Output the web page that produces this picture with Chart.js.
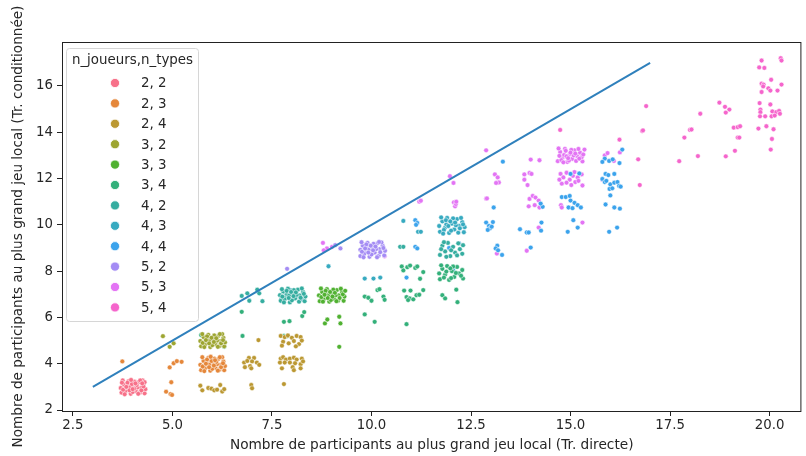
<!DOCTYPE html>
<html>
<head>
<meta charset="utf-8">
<script src="https://cdn.jsdelivr.net/npm/chart.js@4.4.1/dist/chart.umd.min.js"></script>
<style>
  html, body { margin: 0; padding: 0; background: #fff; }
</style>
</head>
<body>
<canvas id="scatterChart" width="806" height="456"></canvas>
<script>
// categories (n_joueurs, n_types) et couleurs
var groupLabels = ['2, 2', '2, 3', '2, 4', '3, 2', '3, 3', '3, 4', '4, 2', '4, 3', '4, 4', '5, 2', '5, 3', '5, 4'];
var groupColors = ['#f77189', '#e5873a', '#bb9832', '#9da531', '#50b131', '#33b07a', '#35ada0', '#37aac0', '#3ba3ec', '#a48cf4', '#e374f4', '#f565cc'];

var xTicks = [2.5, 5, 7.5, 10, 12.5, 15, 17.5, 20];
var yTicks = [2, 4, 6, 8, 10, 12, 14, 16];

// diagonale
var lineX = [3, 17];
var lineY = [3, 17];

// points [direct, conditionné]
var pts22 = [[3.72,2.75],[3.78,3.1],[3.85,2.9],[3.9,3.25],[3.95,2.7],[4.02,3.05],[4.08,2.82],[4.15,3.2],[4.2,2.95],[4.28,3.12],[4.3,2.72],[3.75,3.28],[3.82,2.8],[3.88,3.05],[3.93,2.98],[4.0,2.78],[4.05,3.22],[4.12,2.98],[4.18,2.75],[4.25,3.28],[4.32,2.9],[3.7,2.95],[3.8,2.68],[3.87,3.18],[3.98,3.12],[4.1,3.08],[4.22,2.85],[4.27,3.02],[3.76,2.88],[3.92,2.85],[4.04,2.92],[4.14,2.7],[4.19,3.28],[3.84,3.0],[3.96,3.3],[4.07,3.15],[4.3,3.2],[3.73,3.18],[4.24,3.15],[4.0,2.9]];
var pts23 = [[5.72,3.72],[5.78,4.12],[5.85,3.88],[5.9,4.25],[5.95,3.7],[6.02,4.05],[6.08,3.82],[6.15,4.2],[6.2,3.95],[6.28,4.1],[6.3,3.72],[5.75,4.28],[5.82,3.8],[5.88,4.02],[5.93,3.96],[6.0,3.78],[6.05,4.22],[6.12,3.98],[6.18,3.74],[6.25,4.28],[6.32,3.9],[5.7,3.95],[5.8,3.68],[5.87,4.18],[5.98,4.12],[6.1,4.08],[6.22,3.85],[6.27,4.02],[5.76,3.88],[5.92,3.85],[6.04,3.92],[6.14,3.7],[6.19,4.28],[5.84,4.0],[5.96,4.3],[6.07,4.15],
  [3.74,4.1],[4.93,3.84],[5.03,4.02],[5.11,4.11],[5.23,4.08],[4.97,3.2],[4.84,2.79],[4.95,2.69],[4.99,2.65]];
var pts24 = [[5.7,3.05],[5.75,2.85],[5.9,2.95],[5.98,2.92],[6.05,2.85],[6.12,2.88],[6.2,3.08],[6.25,2.8],[6.3,2.9],
  [6.98,3.08],[7.0,2.94],
  [6.92,4.25],[7.05,4.25],[6.8,4.05],[6.88,4.12],[7.0,4.1],[7.12,4.05],[6.82,3.85],[6.95,3.9],[6.98,3.8],[7.18,3.95],
  [7.72,4.22],[7.78,4.28],[7.85,4.18],[7.95,4.22],[8.05,4.26],[8.12,4.18],[8.25,4.22],[7.7,4.05],[7.82,4.05],[7.95,4.05],[8.08,4.02],[8.22,3.98],[7.75,3.8],[8.02,3.85],[8.22,3.8],[8.05,3.72],[8.28,4.1],
  [7.8,3.12],
  [7.72,5.2],[7.82,5.15],[7.9,5.22],[8.0,5.12],[8.12,5.2],[8.22,5.15],[7.78,4.95],[7.92,4.88],[8.05,4.98],[8.18,4.85],[7.75,4.78],[8.1,4.75],[8.25,5.0],
  [7.16,5.02]];
var pts32 = [[5.72,4.75],[5.78,5.15],[5.85,4.9],[5.9,5.25],[5.95,4.72],[6.02,5.05],[6.08,4.85],[6.15,5.2],[6.2,4.98],[6.28,5.12],[6.3,4.75],[5.75,5.28],[5.82,4.82],[5.88,5.05],[5.93,4.98],[6.0,4.8],[6.05,5.22],[6.12,5.0],[6.18,4.76],[6.25,5.28],[6.32,4.92],[5.7,4.98],[5.8,4.72],[5.87,5.18],[5.98,5.12],[6.1,5.1],[6.22,4.88],[6.27,5.02],[5.76,4.9],[5.92,4.88],[6.04,4.94],[6.14,4.73],[6.19,5.28],[5.84,5.02],
  [4.76,5.19],[4.93,4.73],[5.03,4.88]];
var pts33 = [[8.7,6.7],[8.76,7.1],[8.83,6.85],[8.88,7.22],[8.94,6.68],[9.0,7.02],[9.06,6.8],[9.13,7.18],[9.18,6.95],[9.26,7.1],[9.3,6.72],[8.73,7.25],[8.8,6.78],[8.86,7.0],[8.92,6.93],[8.98,6.75],[9.04,7.2],[9.1,6.96],[9.16,6.72],[9.23,7.24],[9.32,6.9],[8.68,6.95],[8.78,6.68],[8.85,7.15],[8.96,7.1],[9.08,7.06],[9.2,6.84],[9.28,7.0],[8.74,6.88],[8.9,6.84],[9.02,6.9],[9.12,6.7],[9.34,7.15],[8.82,6.98],
  [8.83,5.74],[8.89,5.91],[9.19,6.03],[9.22,5.74],[9.19,4.73]];
var pts34 = [[6.74,6.24],[7.8,5.81],[7.94,5.84],[8.26,6.06],[8.31,6.23],[6.76,5.2],[7.8,5.2],[7.88,5.19],[5.72,5.24],[6.3,4.73],
  [9.83,6.9],[9.92,6.85],[10.0,6.72],[10.15,7.18],[10.2,7.22],[10.3,6.9],[10.33,6.76],
  [9.83,6.13],[10.08,5.81],
  [10.82,7.16],[10.98,7.16],[10.88,6.88],[10.96,6.82],[11.05,6.78],[11.13,6.96],[11.2,6.98],[10.92,6.75],[11.3,7.18],
  [10.88,5.71],
  [10.76,8.2],[10.8,8.03],[10.9,8.17],[10.97,8.24],[11.1,8.14],[11.15,8.2],[11.3,7.96],[11.22,7.67],
  [11.72,7.65],[11.78,8.1],[11.85,7.85],[11.9,8.22],[11.95,7.62],[12.02,8.0],[12.08,7.75],[12.15,8.18],[12.2,7.9],[12.28,8.05],[12.3,7.68],[11.75,8.25],[11.82,7.72],[11.88,7.98],[12.0,7.7],[12.05,8.2],[12.12,7.92],[12.25,7.8],[11.7,7.9],[11.98,8.12],
  [11.78,6.96],[11.85,6.82],[12.13,7.2],[12.16,6.66]];
var pts42 = [[7.72,6.72],[7.78,7.12],[7.85,6.88],[7.9,7.24],[7.95,6.65],[8.02,7.02],[8.08,6.82],[8.15,7.2],[8.2,6.95],[8.28,7.1],[8.32,6.7],[7.75,7.22],[7.82,6.78],[7.88,7.0],[7.93,6.94],[8.0,6.74],[8.05,7.18],[8.12,6.98],[8.18,6.68],[8.25,7.25],[8.34,6.9],[7.7,6.96],[7.8,6.65],[7.87,7.15],[7.98,7.1],[8.1,7.08],[8.22,6.85],[8.3,7.02],[7.76,6.9],[7.92,6.84],[8.04,6.92],
  [6.74,6.93],[6.88,7.04],[6.93,6.72],[7.13,7.2],[7.18,7.04],[7.26,6.7],
  [11.72,8.7],[11.78,9.1],[11.85,8.85],[11.92,9.22],[11.98,8.65],[12.05,9.05],[12.1,8.8],[12.18,9.2],[12.22,8.95],[12.3,9.12],[11.75,8.95],[11.88,8.62],[12.0,8.9],[12.15,8.68],[12.28,8.75],[11.82,9.25],
  [10.72,9.05],[10.8,9.05]];
var pts43 = [[11.72,9.7],[11.78,10.15],[11.85,9.88],[11.9,10.3],[11.95,9.65],[12.02,10.05],[12.08,9.8],[12.15,10.25],[12.2,9.95],[12.28,10.12],[12.32,9.68],[11.75,10.32],[11.82,9.78],[11.88,10.02],[11.93,9.95],[12.0,9.75],[12.05,10.28],[12.12,9.98],[12.18,9.66],[12.25,10.3],[12.34,9.9],[11.7,9.95],[11.8,9.62],[11.87,10.2],[11.98,10.15],[12.1,10.1],[12.22,9.85],[12.3,10.02],
  [10.8,10.17],[11.17,9.7],[11.24,9.7],
  [9.83,7.68],[10.05,7.68],[10.22,7.72],
  [8.92,8.21],
  [7.84,7.05],[8.18,6.9],[8.26,6.78],[7.96,7.18],[7.74,6.82]];
var pts44 = [[11.1,10.2],[11.15,10.08],[11.12,10.0],
  [11.1,9.05],[11.15,8.98],[10.88,7.72],[11.95,9.0],[12.2,9.2],[12.05,8.05],
  [13.3,12.73],
  [12.88,10.1],[12.95,9.95],[13.05,10.12],[12.98,9.85],[13.02,9.92],[12.92,9.78],[13.07,10.75],
  [13.16,9.1],[13.12,8.98],[13.18,8.9],[13.28,8.7],
  [13.73,9.81],[13.9,9.67],[13.95,9.67],[14.27,10.1],[14.26,9.75],
  [14.0,9.02],
  [14.3,10.78],[14.25,10.92],
  [14.78,11.2],[14.88,11.2],[14.98,11.25],[15.0,11.05],[15.1,10.95],[15.18,10.85],[15.26,10.75],[14.95,10.75],[15.05,10.72],
  [15.07,10.2],[15.18,9.88],[14.93,9.7],
  [15.0,12.2],[15.22,12.22],
  [15.88,12.2],[15.95,12.15],[16.1,12.2],[15.8,11.98],[15.86,11.85],[15.9,11.9],[16.0,11.75],[16.1,11.82],[16.18,11.85],[16.22,11.68],[16.26,11.65],[15.98,11.55],[16.05,11.58],
  [16.3,13.25],[15.86,12.86],[15.8,12.72],[15.97,12.76],[16.06,12.83],[16.23,12.67],
  [16.0,11.27],[15.88,10.88],[16.1,10.75],[16.24,10.7],
  [15.97,9.7],[16.17,9.88]];
var pts52 = [[9.72,8.65],[9.78,9.1],[9.85,8.85],[9.9,9.22],[9.95,8.62],[10.02,9.02],[10.08,8.8],[10.15,9.2],[10.2,8.95],[10.28,9.1],[10.32,8.68],[9.75,9.25],[9.82,8.75],[9.88,9.0],[9.93,8.92],[10.0,8.72],[10.05,9.18],[10.12,8.96],[10.18,8.66],[10.25,9.24],[10.34,8.88],[9.72,8.92],[9.8,8.6],[9.87,9.15],[9.98,9.1],[10.1,9.06],[10.22,8.82],[10.3,9.0],[9.76,8.84],[9.92,8.8],[10.04,8.9],[10.14,8.6],[10.19,9.26],[9.84,8.98],
  [7.88,8.1],[9.09,9.12],[9.22,8.98]];
var pts53 = [[8.78,9.22],[8.88,8.98],[8.8,8.9],[9.01,9.05],
  [10.33,8.64],
  [11.2,11.0],[11.24,11.04],
  [11.97,12.1],[12.06,11.81],
  [12.07,10.97],[12.1,10.8],[12.12,10.9],[12.13,11.0],
  [13.1,12.18],[13.17,12.05],[13.15,11.81],[13.2,11.83],[13.13,11.81],
  [12.88,13.22],
  [12.88,11.13],[12.9,11.14],
  [13.15,8.76],
  [14.0,12.82],[14.22,12.79],
  [13.84,12.18],[13.97,12.24],[14.02,12.2],[13.84,11.95],[13.92,11.72],
  [13.97,11.12],[14.05,11.25],[14.12,11.18],[14.2,11.05],[13.95,10.8],[14.1,10.85],[14.22,10.75],
  [14.2,9.88],[13.9,8.88],
  [14.68,12.75],[14.74,13.15],[14.8,12.9],[14.86,13.28],[14.92,12.72],[14.98,13.05],[15.04,12.85],[15.1,13.22],[15.16,12.98],[15.24,13.12],[15.3,12.74],[14.7,13.3],[14.77,12.8],[14.84,13.02],[14.9,12.96],[14.96,12.78],[15.02,13.24],[15.08,13.0],[15.14,12.76],[15.2,13.28],[15.28,12.92],[14.72,12.98],[14.82,12.7],[14.88,13.2],[15.0,13.12],[15.12,13.08],[15.22,12.86],[15.32,13.04],[15.35,13.25],[14.94,12.88],
  [14.75,12.2],[14.82,12.05],[14.9,12.25],[14.98,11.95],[15.06,12.12],[15.12,11.85],[15.18,12.05],[15.28,12.18],[14.78,11.78],[14.9,11.82],[15.02,11.72],[15.2,11.9],[14.72,11.95],[15.3,11.7],[15.1,12.28],
  [14.76,10.85],[14.78,10.75],
  [15.3,10.1],
  [15.86,13.0],[15.93,13.1],[16.09,12.76],[16.24,13.13],
  [15.8,11.95]];
var pts54 = [[14.74,14.1],[16.23,13.68],
  [16.9,15.13],[16.8,14.05],[16.82,14.08],[16.7,12.83],[16.74,11.72],
  [17.73,12.75],[17.86,13.77],[18.0,14.1],[18.04,14.12],[18.26,14.8],[18.2,12.97],
  [18.74,15.28],[18.88,15.1],[18.99,14.98],[18.9,14.85],[19.1,14.2],[19.2,14.22],[19.26,14.26],[19.2,13.77],[19.24,13.77],[19.13,13.2],[18.9,12.96],
  [19.8,17.1],[19.74,16.8],[19.87,16.78],[20.28,17.2],[20.3,17.1],[20.04,16.27],[19.8,16.1],[19.85,16.06],[19.84,15.98],[19.97,15.9],[20.02,15.8],[19.8,15.74],[20.2,15.8],[20.3,16.06],[19.75,15.26],[20.02,15.2],[19.77,14.98],[19.77,14.87],[19.76,14.69],[19.89,14.69],[20.07,14.9],[20.17,14.87],[20.24,14.92],[20.26,14.8],[20.05,14.69],[20.13,14.72],[19.72,14.16],[19.92,14.26],[20.1,14.13],[20.06,13.71],[20.03,13.25]];

var groupPoints = [pts22, pts23, pts24, pts32, pts33, pts34, pts42, pts43, pts44, pts52, pts53, pts54];

var textColor = '#262626';
var fontFamily = "'DejaVu Sans', sans-serif";

function toXY(pairs) {
    return pairs.map(function(p) { return { x: p[0], y: p[1] }; });
}

var datasets = [{
    type: 'line',
    label: 'diagonale',
    data: lineX.map(function(v, i) { return { x: v, y: lineY[i] }; }),
    borderColor: '#2f80bc',
    borderWidth: 2,
    pointRadius: 0,
    fill: false,
    order: 0
}];

for (var i = 0; i < groupLabels.length; i++) {
    datasets.push({
        label: groupLabels[i],
        data: toXY(groupPoints[i]),
        backgroundColor: groupColors[i],
        borderColor: 'rgba(255,255,255,0.85)',
        borderWidth: 0.6,
        pointRadius: 2.4,
        order: 1
    });
}

// cadre complet + légende dans la zone de tracé
var frameAndLegend = {
    id: 'frameAndLegend',
    afterDatasetsDraw: function(chart) {
        var ctx = chart.ctx;
        var a = chart.chartArea;
        ctx.save();
        ctx.strokeStyle = '#222';
        ctx.lineWidth = 1;
        ctx.strokeRect(a.left + 0.5, a.top + 0.5, a.right - a.left - 1, a.bottom - a.top);

        var bx = a.left + 4.5, by = a.top + 6.5, bw = 132, bh = 273;
        ctx.beginPath();
        ctx.roundRect(bx, by, bw, bh, 3);
        ctx.fillStyle = 'rgba(255,255,255,0.8)';
        ctx.fill();
        ctx.strokeStyle = '#d6d6d6';
        ctx.stroke();

        ctx.font = '13.4px ' + fontFamily;
        ctx.fillStyle = textColor;
        ctx.textBaseline = 'middle';
        ctx.textAlign = 'center';
        ctx.fillText('n_joueurs,n_types', bx + bw / 2, a.top + 19);

        ctx.textAlign = 'left';
        for (var k = 0; k < groupLabels.length; k++) {
            var yy = a.top + 41 + k * 20.4;
            ctx.beginPath();
            ctx.arc(a.left + 53, yy, 4.6, 0, Math.PI * 2);
            ctx.fillStyle = groupColors[k];
            ctx.fill();
            ctx.strokeStyle = '#fff';
            ctx.lineWidth = 0.8;
            ctx.stroke();
            ctx.fillStyle = textColor;
            ctx.fillText(groupLabels[k], a.left + 79, yy + 1);
        }
        ctx.restore();
    }
};

var ctx = document.getElementById('scatterChart').getContext('2d');
var chart = new Chart(ctx, {
    type: 'scatter',
    data: { datasets: datasets },
    options: {
        responsive: false,
        animation: false,
        devicePixelRatio: 1,
        layout: { padding: { top: 42, right: 1, left: 0, bottom: 0 } },
        plugins: {
            legend: { display: false },
            tooltip: { enabled: false }
        },
        scales: {
            x: {
                type: 'linear',
                min: 2.225,
                max: 20.8,
                afterFit: function(scale) { scale.height = 45; },
                afterBuildTicks: function(scale) {
                    scale.ticks = xTicks.map(function(v) { return { value: v }; });
                },
                ticks: {
                    color: textColor,
                    font: { family: fontFamily, size: 13.3 },
                    padding: 2,
                    maxRotation: 0,
                    callback: function(v) { return Number(v).toFixed(1); }
                },
                grid: { drawOnChartArea: false, drawTicks: true, tickLength: 5, tickColor: '#222' },
                border: { display: false },
                title: {
                    display: true,
                    text: 'Nombre de participants au plus grand jeu local (Tr. directe)',
                    color: textColor,
                    font: { family: fontFamily, size: 13.7 },
                    padding: { top: 0, bottom: 2 }
                }
            },
            y: {
                type: 'linear',
                min: 1.957,
                max: 17.9,
                afterFit: function(scale) { scale.width = 62; },
                afterBuildTicks: function(scale) {
                    scale.ticks = yTicks.map(function(v) { return { value: v }; });
                },
                ticks: {
                    color: textColor,
                    font: { family: fontFamily, size: 13.3 },
                    padding: 4,
                    callback: function(v) { return String(v); }
                },
                grid: { drawOnChartArea: false, drawTicks: true, tickLength: 5, tickColor: '#222' },
                border: { display: false },
                title: {
                    display: true,
                    text: 'Nombre de participants au plus grand jeu local (Tr. conditionnée)',
                    color: textColor,
                    font: { family: fontFamily, size: 13.6 },
                    padding: { top: 10, bottom: 0 }
                }
            }
        }
    },
    plugins: [frameAndLegend]
});
</script>
</body>
</html>
